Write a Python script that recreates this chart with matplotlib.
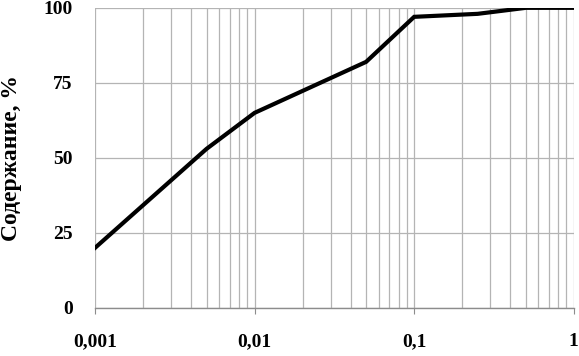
import matplotlib
matplotlib.use('Agg')
import matplotlib.pyplot as plt
from matplotlib.ticker import FixedLocator, FuncFormatter, LogLocator, NullFormatter

plt.rcParams['font.family'] = ['Liberation Serif', 'DejaVu Serif']
plt.rcParams['font.weight'] = 'bold'

# particle size and content
size = [0.001, 0.005, 0.01, 0.05, 0.1, 0.25, 0.5, 1]
content = [20, 53, 65, 82, 97, 98, 100, 100]

y_ticks = [0, 25, 50, 75, 100]
x_ticks = [0.001, 0.01, 0.1, 1]
x_labels = ['0,001', '0,01', '0,1', '1']

fig = plt.figure(figsize=(5.79, 3.56), dpi=100)
ax = fig.add_axes([0.164, 0.135, 0.827, 0.843])

ax.plot(size, content, color='black', linewidth=3, solid_joinstyle='miter', zorder=3)

ax.set_xscale('log')
ax.set_xlim(0.001, 1)
ax.set_ylim(0, 100)

ax.xaxis.set_major_locator(FixedLocator(x_ticks))
ax.xaxis.set_major_formatter(FuncFormatter(lambda v, p: x_labels[x_ticks.index(v)] if v in x_ticks else ''))
ax.xaxis.set_minor_locator(LogLocator(base=10, subs=range(2, 10)))
ax.xaxis.set_minor_formatter(NullFormatter())
ax.set_yticks(y_ticks)

ax.grid(True, which='both', axis='x', color='#b4b4b4', linewidth=0.9)
ax.grid(True, which='major', axis='y', color='#b4b4b4', linewidth=0.9)

for s in ['top', 'right', 'left']:
    ax.spines[s].set_visible(False)
ax.spines['bottom'].set_color('#8c8c8c')
ax.spines['bottom'].set_linewidth(1)

ax.tick_params(axis='x', which='major', length=4, color='#8c8c8c', labelsize=14, pad=14)
ax.tick_params(axis='x', which='minor', length=0)
ax.tick_params(axis='y', length=0, labelsize=14, pad=16)

ax.set_ylabel('Содержание, %', fontsize=17, fontweight='bold')
ax.yaxis.set_label_coords(-0.152, 0.5)

fig.savefig('out.png', dpi=100)
